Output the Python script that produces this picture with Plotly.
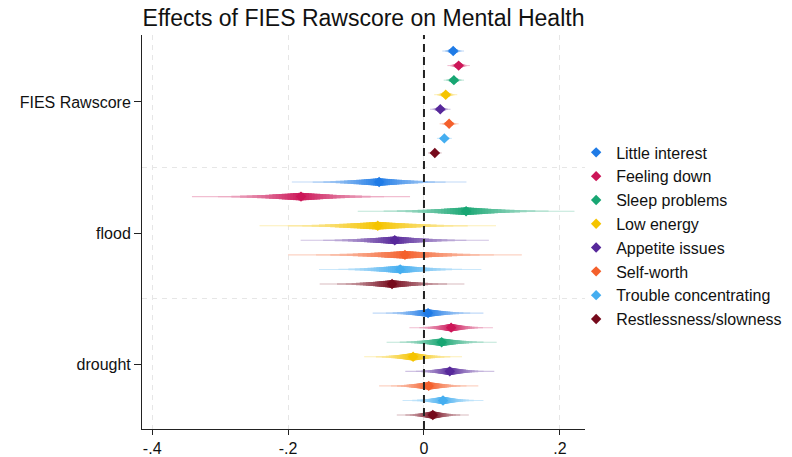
import plotly.graph_objects as go
from statistics import NormalDist

# ---------------- data ----------------
groups = ["FIES Rawscore", "flood", "drought"]
series = ["Little interest", "Feeling down", "Sleep problems", "Low energy",
          "Appetite issues", "Self-worth", "Trouble concentrating", "Restlessness/slowness"]
colors = ["#1f7be6", "#cc1658", "#18a673", "#f5c400",
          "#57289a", "#f4602c", "#45aef0", "#760a1c"]

# point estimates per group (order follows `series`)
est_fies = [0.043, 0.051, 0.044, 0.032, 0.024, 0.037, 0.030, 0.016]
est_flood = [-0.066, -0.181, 0.062, -0.068, -0.043, -0.028, -0.035, -0.047]
est_drought = [0.006, 0.040, 0.026, -0.016, 0.038, 0.007, 0.028, 0.013]

# outer confidence bounds (as visible)
lo_fies = [0.028, 0.035, 0.029, 0.015, 0.009, 0.023, 0.019, 0.006]
hi_fies = [0.060, 0.068, 0.059, 0.049, 0.039, 0.051, 0.041, 0.026]
lo_flood = [-0.194, -0.343, -0.097, -0.241, -0.181, -0.198, -0.154, -0.154]
hi_flood = [0.063, -0.022, 0.222, 0.107, 0.096, 0.146, 0.085, 0.059]
lo_drought = [-0.075, -0.022, -0.055, -0.088, -0.028, -0.065, -0.032, -0.040]
hi_drought = [0.088, 0.101, 0.107, 0.056, 0.103, 0.081, 0.087, 0.066]

x_ticks = [-0.4, -0.2, 0, 0.2]
x_ticklabels = ["-.4", "-.2", "0", ".2"]

est = [est_fies, est_flood, est_drought]
lo = [lo_fies, lo_flood, lo_drought]
hi = [hi_fies, hi_flood, hi_drought]

# ---------------- helpers ----------------
nd = NormalDist()
rows_per_group = 9  # 8 series + 1 gap
levels = [99] + list(range(95, 0, -5))
z_outer = nd.inv_cdf(0.5 + levels[0] / 200)


def mix(hexcol, frac):
    h = hexcol.lstrip("#")
    r, g, b = (int(h[i:i + 2], 16) for i in (0, 2, 4))
    r = round(255 + (r - 255) * frac)
    g = round(255 + (g - 255) * frac)
    b = round(255 + (b - 255) * frac)
    return f"rgb({r},{g},{b})"


fig = go.Figure()
FONT = "Liberation Sans, Arial, Helvetica, sans-serif"

for si, name in enumerate(series):
    col = colors[si]
    ys = [g * rows_per_group + si for g in range(len(groups))]
    for p in levels:
        zp = nd.inv_cdf(0.5 + p / 200)
        xs, yy = [], []
        for g in range(len(groups)):
            c = est[g][si]
            se = (hi[g][si] - lo[g][si]) / 2 / z_outer
            xs += [c - zp * se, c + zp * se, None]
            yy += [ys[g], ys[g], None]
        q = 1 - p / 100
        fig.add_trace(go.Scatter(
            x=xs, y=yy, mode="lines",
            line=dict(color=mix(col, 0.24 + 0.76 * q ** 0.65), width=1.0 + 7.0 * q),
            hoverinfo="skip", showlegend=False))
    fig.add_trace(go.Scatter(
        x=[est[g][si] for g in range(len(groups))], y=ys, mode="markers",
        marker=dict(symbol="diamond", size=8, color=col, line=dict(width=0)),
        name=name, legendgroup=name, showlegend=True))

last_row = rows_per_group * (len(groups) - 1) + len(series) - 1
fig.update_layout(
    width=792, height=457,
    margin=dict(l=142, r=207, t=35, b=28, autoexpand=False),
    paper_bgcolor="white", plot_bgcolor="white",
    font=dict(family=FONT, size=16, color="#111"),
    title=dict(text="Effects of FIES Rawscore on Mental Health",
               font=dict(size=23, color="#111"),
               x=0.5, xref="paper", xanchor="center",
               y=1 - 18 / 457, yref="container", yanchor="middle"),
    showlegend=True,
    legend=dict(x=0.98, xanchor="left", y=0.49, yanchor="middle",
                font=dict(size=16), bgcolor="rgba(0,0,0,0)",
                traceorder="normal", itemclick=False),
    xaxis=dict(range=[-0.415, 0.237], tickvals=x_ticks, ticktext=x_ticklabels,
               showgrid=True, gridcolor="#e6e6e6", griddash="5px,5px", gridwidth=1,
               zeroline=False, showline=True, linecolor="#222", linewidth=1,
               ticks="outside", ticklen=5, tickcolor="#222", automargin=False,
               tickfont=dict(size=16)),
    yaxis=dict(range=[last_row + 0.96, -1.1],
               tickvals=[g * rows_per_group + 3.5 for g in range(len(groups))],
               ticktext=groups, showgrid=False, zeroline=False,
               showline=True, linecolor="#222", linewidth=1,
               ticks="outside", ticklen=7, tickcolor="#222", automargin=False,
               tickfont=dict(size=16)),
)

# group separators
for g in range(1, len(groups)):
    fig.add_shape(type="line", xref="paper", x0=0, x1=1,
                  y0=g * rows_per_group - 1, y1=g * rows_per_group - 1,
                  line=dict(color="#e6e6e6", width=1, dash="5px,5px"), layer="below")

# zero reference line
fig.add_shape(type="line", x0=0, x1=0, yref="paper", y0=0, y1=1,
              line=dict(color="#222", width=2, dash="8px,5px"), layer="above")

fig.write_html("out.html", config={"displayModeBar": False},
               post_script="document.body.style.margin='0';")
